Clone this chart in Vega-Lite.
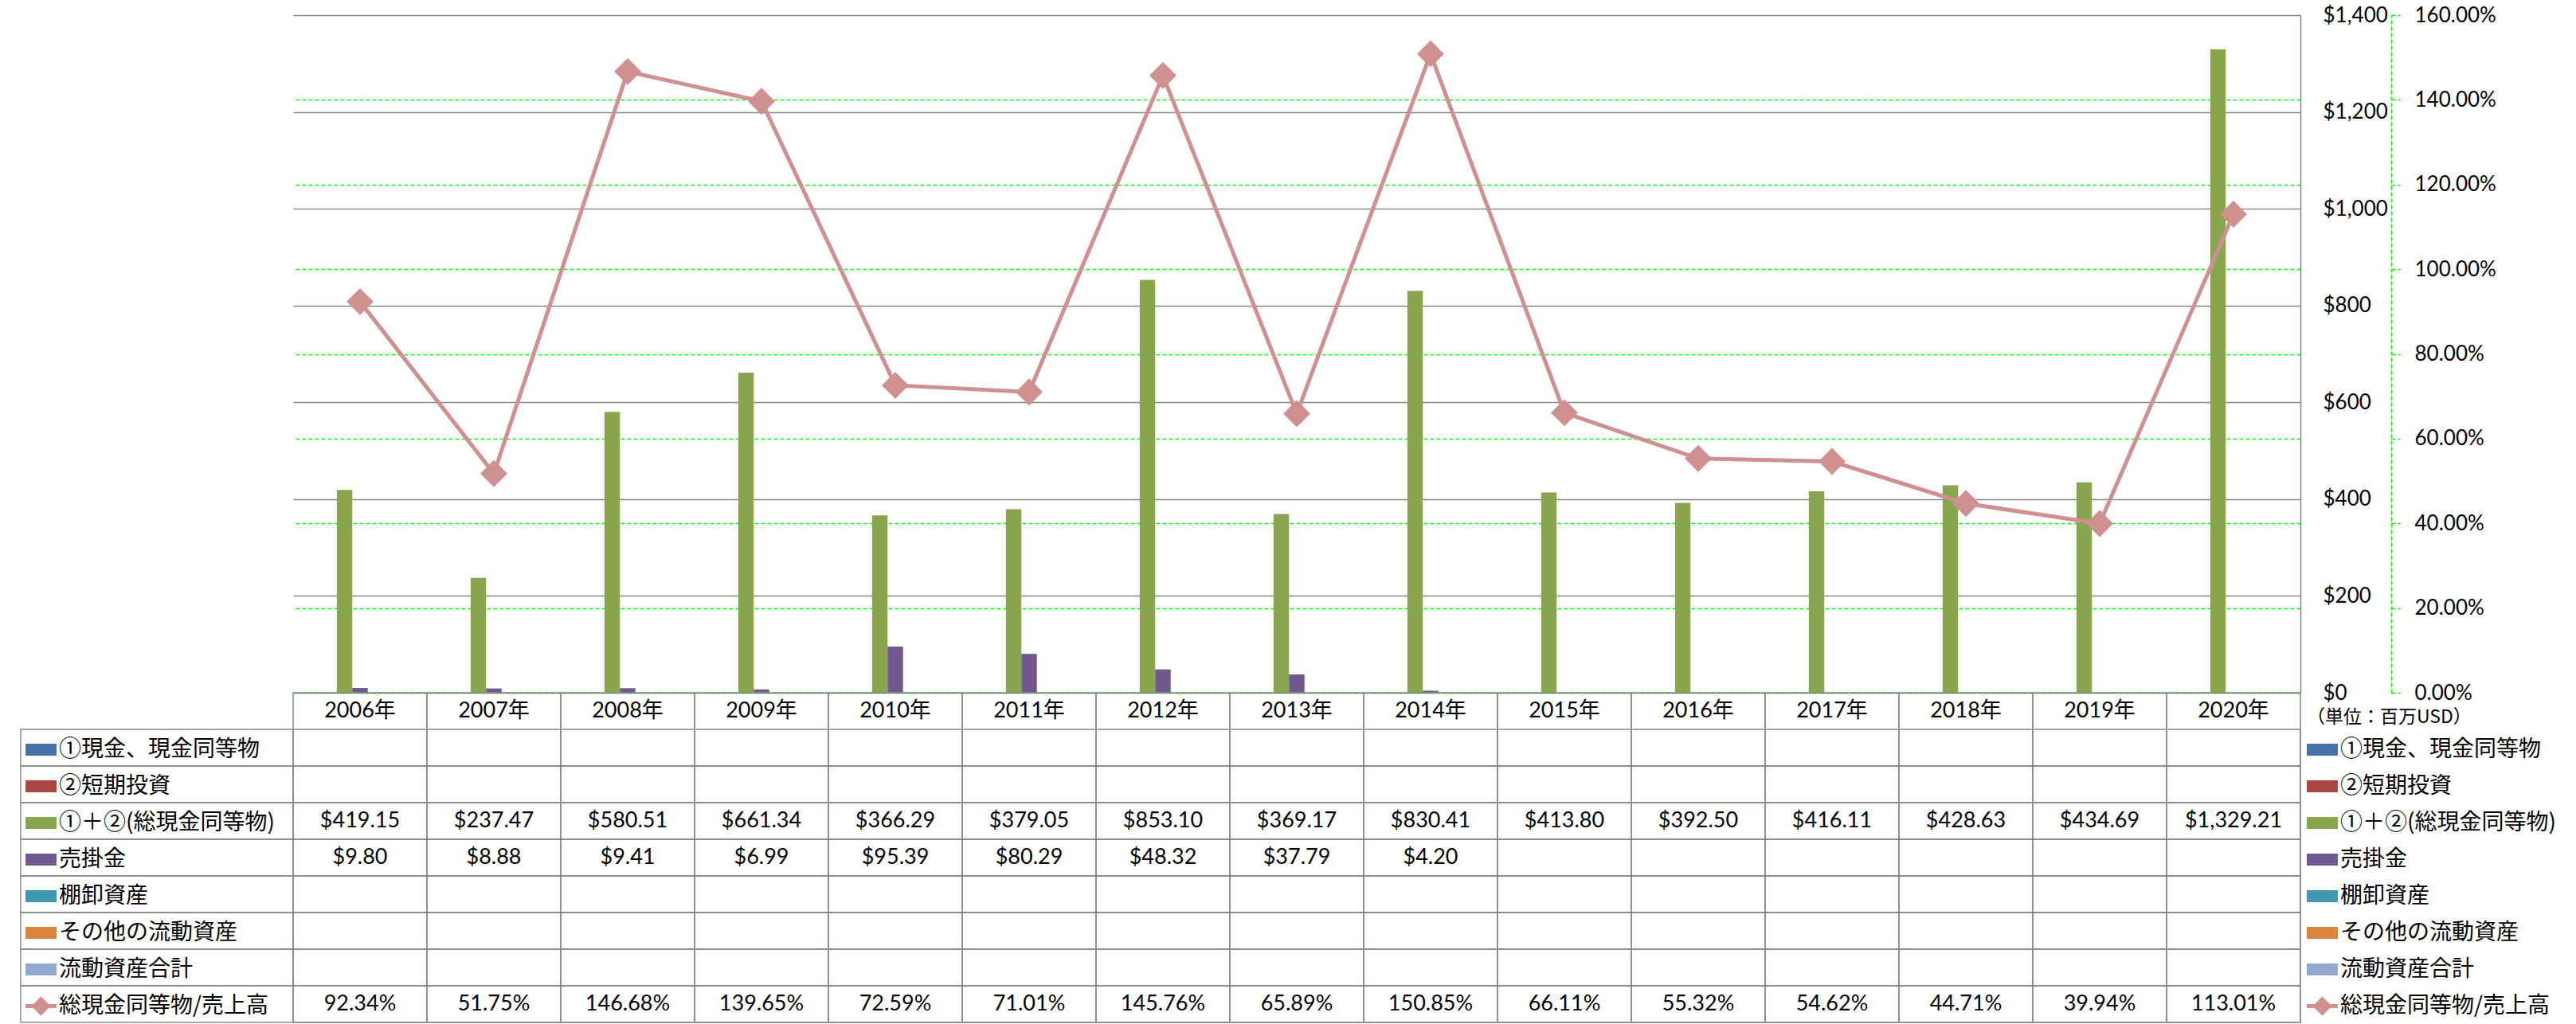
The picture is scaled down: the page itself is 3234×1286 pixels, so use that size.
{
  "$schema": "https://vega.github.io/schema/vega-lite/v6.json",
  "background": "white",
  "padding": {"left": 25, "top": 6, "right": 0, "bottom": 0},
  "config": {
    "view": {"stroke": null},
    "font": "Lato, 'Noto Sans CJK JP', sans-serif",
    "text": {"font": "Lato, 'Noto Sans CJK JP', sans-serif", "fontSize": 27, "color": "black"},
    "axis": {"labelFont": "Lato, 'Noto Sans CJK JP', sans-serif", "labelFontSize": 26, "labelColor": "black"}
  },
  "datasets": {
    "years": [
      {"year": "2006年"}, {"year": "2007年"}, {"year": "2008年"}, {"year": "2009年"}, {"year": "2010年"},
      {"year": "2011年"}, {"year": "2012年"}, {"year": "2013年"}, {"year": "2014年"}, {"year": "2015年"},
      {"year": "2016年"}, {"year": "2017年"}, {"year": "2018年"}, {"year": "2019年"}, {"year": "2020年"}
    ],
    "series": [
      {"series": "①現金、現金同等物"}, {"series": "②短期投資"}, {"series": "①＋②(総現金同等物)"}, {"series": "売掛金"},
      {"series": "棚卸資産"}, {"series": "その他の流動資産"}, {"series": "流動資産合計"}, {"series": "総現金同等物/売上高"}
    ],
    "cells": [
      {"year": "2006年", "series": "①＋②(総現金同等物)", "value": 419.15},
      {"year": "2007年", "series": "①＋②(総現金同等物)", "value": 237.47},
      {"year": "2008年", "series": "①＋②(総現金同等物)", "value": 580.51},
      {"year": "2009年", "series": "①＋②(総現金同等物)", "value": 661.34},
      {"year": "2010年", "series": "①＋②(総現金同等物)", "value": 366.29},
      {"year": "2011年", "series": "①＋②(総現金同等物)", "value": 379.05},
      {"year": "2012年", "series": "①＋②(総現金同等物)", "value": 853.10},
      {"year": "2013年", "series": "①＋②(総現金同等物)", "value": 369.17},
      {"year": "2014年", "series": "①＋②(総現金同等物)", "value": 830.41},
      {"year": "2015年", "series": "①＋②(総現金同等物)", "value": 413.80},
      {"year": "2016年", "series": "①＋②(総現金同等物)", "value": 392.50},
      {"year": "2017年", "series": "①＋②(総現金同等物)", "value": 416.11},
      {"year": "2018年", "series": "①＋②(総現金同等物)", "value": 428.63},
      {"year": "2019年", "series": "①＋②(総現金同等物)", "value": 434.69},
      {"year": "2020年", "series": "①＋②(総現金同等物)", "value": 1329.21},
      {"year": "2006年", "series": "売掛金", "value": 9.80},
      {"year": "2007年", "series": "売掛金", "value": 8.88},
      {"year": "2008年", "series": "売掛金", "value": 9.41},
      {"year": "2009年", "series": "売掛金", "value": 6.99},
      {"year": "2010年", "series": "売掛金", "value": 95.39},
      {"year": "2011年", "series": "売掛金", "value": 80.29},
      {"year": "2012年", "series": "売掛金", "value": 48.32},
      {"year": "2013年", "series": "売掛金", "value": 37.79},
      {"year": "2014年", "series": "売掛金", "value": 4.20},
      {"year": "2006年", "series": "総現金同等物/売上高", "value": 0.9234},
      {"year": "2007年", "series": "総現金同等物/売上高", "value": 0.5175},
      {"year": "2008年", "series": "総現金同等物/売上高", "value": 1.4668},
      {"year": "2009年", "series": "総現金同等物/売上高", "value": 1.3965},
      {"year": "2010年", "series": "総現金同等物/売上高", "value": 0.7259},
      {"year": "2011年", "series": "総現金同等物/売上高", "value": 0.7101},
      {"year": "2012年", "series": "総現金同等物/売上高", "value": 1.4576},
      {"year": "2013年", "series": "総現金同等物/売上高", "value": 0.6589},
      {"year": "2014年", "series": "総現金同等物/売上高", "value": 1.5085},
      {"year": "2015年", "series": "総現金同等物/売上高", "value": 0.6611},
      {"year": "2016年", "series": "総現金同等物/売上高", "value": 0.5532},
      {"year": "2017年", "series": "総現金同等物/売上高", "value": 0.5462},
      {"year": "2018年", "series": "総現金同等物/売上高", "value": 0.4471},
      {"year": "2019年", "series": "総現金同等物/売上高", "value": 0.3994},
      {"year": "2020年", "series": "総現金同等物/売上高", "value": 1.1301}
    ]
  },
  "columns": 2,
  "spacing": 0,
  "align": "each",
  "bounds": "flush",
  "resolve": {
    "scale": {"x": "independent", "y": "independent", "color": "independent", "shape": "independent", "xOffset": "independent"},
    "legend": {"color": "independent", "shape": "independent"}
  },
  "concat": [
    {
      "width": 342, "height": 851,
      "data": {"values": []},
      "mark": "point"
    },
    {
      "width": 2520, "height": 851,
      "data": {"name": "cells"},
      "layer": [
        {
          "transform": [{"filter": {"field": "series", "oneOf": ["①＋②(総現金同等物)", "売掛金"]}}],
          "mark": {"type": "bar"},
          "encoding": {
            "x": {"field": "year", "type": "nominal", "sort": null,
              "scale": {"domain": ["2006年","2007年","2008年","2009年","2010年","2011年","2012年","2013年","2014年","2015年","2016年","2017年","2018年","2019年","2020年"], "paddingInner": 0.19, "paddingOuter": 0.095},
              "axis": null},
            "xOffset": {"field": "series", "type": "nominal",
              "scale": {"domain": ["①現金、現金同等物","②短期投資","①＋②(総現金同等物)","売掛金","棚卸資産","その他の流動資産","流動資産合計"], "paddingInner": 0, "paddingOuter": 0}},
            "y": {"field": "value", "type": "quantitative",
              "scale": {"domain": [0, 1400], "nice": false},
              "axis": {"orient": "right", "values": [0,200,400,600,800,1000,1200,1400], "format": "$,.0f", "title": null,
                "labelPadding": 28, "ticks": false, "tickSize": 0, "domain": true, "domainColor": "#898989", "domainWidth": 1.5,
                "grid": true, "gridColor": "#898989", "gridWidth": 1.5}},
            "color": {"field": "series", "type": "nominal",
              "scale": {"domain": ["①現金、現金同等物","②短期投資","①＋②(総現金同等物)","売掛金","棚卸資産","その他の流動資産","流動資産合計","総現金同等物/売上高"],
                "range": ["#4572A7","#AA4643","#89A54E","#71588F","#4198AF","#DB843D","#93A9CF","#D09090"]},
              "legend": null}
          }
        },
        {
          "transform": [{"filter": {"field": "series", "equal": "総現金同等物/売上高"}}],
          "mark": {"type": "line", "color": "#D09090", "strokeWidth": 5,
            "point": {"shape": "diamond", "size": 1150, "filled": true, "color": "#D09090"}},
          "encoding": {
            "x": {"field": "year", "type": "nominal", "sort": null,
              "scale": {"domain": ["2006年","2007年","2008年","2009年","2010年","2011年","2012年","2013年","2014年","2015年","2016年","2017年","2018年","2019年","2020年"], "paddingInner": 0.19, "paddingOuter": 0.095},
              "axis": null},
            "y": {"field": "value", "type": "quantitative",
              "scale": {"domain": [0, 1.6], "nice": false},
              "axis": {"orient": "right", "offset": 114, "values": [0,0.2,0.4,0.6,0.8,1,1.2,1.4,1.6], "format": ".2%", "title": null,
                "labelPadding": 18, "ticks": true, "tickSize": 11, "tickColor": "#00FF00", "tickDash": [5,3], "tickWidth": 1.5,
                "domain": true, "domainColor": "#00FF00", "domainDash": [5,3], "domainWidth": 1.5,
                "grid": true, "gridColor": {"condition": {"test": "datum.value >= 1.59", "value": "transparent"}, "value": "#00FF00"},
                "gridDash": [5,3], "gridWidth": 1.5}}
          }
        }
      ],
      "resolve": {"scale": {"y": "independent"}}
    },
    {
      "width": 342, "height": 414,
      "layer": [
        {
          "data": {"name": "series"},
          "mark": {"type": "rect", "filled": false, "stroke": "#898989", "strokeWidth": 1.5},
          "encoding": {
            "y": {"field": "series", "type": "nominal",
              "scale": {"domain": ["hdr","①現金、現金同等物","②短期投資","①＋②(総現金同等物)","売掛金","棚卸資産","その他の流動資産","流動資産合計","総現金同等物/売上高"], "paddingInner": 0, "paddingOuter": 0},
              "axis": null}
          }
        },
        {
          "data": {"name": "series"},
          "transform": [{"filter": "false"}],
          "mark": {"type": "point", "filled": true, "size": 1521},
          "encoding": {
            "color": {"field": "series", "type": "nominal",
              "scale": {"domain": ["①現金、現金同等物","②短期投資","①＋②(総現金同等物)","売掛金","棚卸資産","その他の流動資産","流動資産合計","総現金同等物/売上高"],
                "range": ["#4572A7","#AA4643","#89A54E","#71588F","#4198AF","#DB843D","#93A9CF","#D09090"]},
              "legend": {"orient": "none", "legendX": 6, "legendY": 52, "title": null, "padding": 0, "rowPadding": 12,
                "symbolSize": 1521, "symbolStrokeWidth": 0, "symbolOpacity": 1, "labelOffset": 3, "labelLimit": 600,
                "labelFont": "'Noto Sans CJK JP', sans-serif", "labelFontSize": 28, "labelColor": "black"}},
            "shape": {"field": "series", "type": "nominal",
              "scale": {"domain": ["①現金、現金同等物","②短期投資","①＋②(総現金同等物)","売掛金","棚卸資産","その他の流動資産","流動資産合計","総現金同等物/売上高"],
                "range": ["M-1,-0.38H1V0.38H-1Z","M-1,-0.38H1V0.38H-1Z","M-1,-0.38H1V0.38H-1Z","M-1,-0.38H1V0.38H-1Z","M-1,-0.38H1V0.38H-1Z","M-1,-0.38H1V0.38H-1Z","M-1,-0.38H1V0.38H-1Z",
                  "M-1,-0.13H-0.49L0,-0.62L0.49,-0.13H1V0.13H0.49L0,0.62L-0.49,0.13H-1Z"]},
              "legend": {"orient": "none", "legendX": 6, "legendY": 52, "title": null, "padding": 0, "rowPadding": 12,
                "symbolSize": 1521, "symbolStrokeWidth": 0, "symbolOpacity": 1, "labelOffset": 3, "labelLimit": 600,
                "labelFont": "'Noto Sans CJK JP', sans-serif", "labelFontSize": 28, "labelColor": "black"}}
          }
        }
      ]
    },
    {
      "width": 2520, "height": 414,
      "layer": [
        {
          "data": {"name": "years"},
          "mark": {"type": "rect", "filled": false, "stroke": "#898989", "strokeWidth": 1.5},
          "encoding": {
            "x": {"field": "year", "type": "nominal", "sort": null,
              "scale": {"domain": ["2006年","2007年","2008年","2009年","2010年","2011年","2012年","2013年","2014年","2015年","2016年","2017年","2018年","2019年","2020年"], "paddingInner": 0, "paddingOuter": 0},
              "axis": null}
          }
        },
        {
          "data": {"name": "series"},
          "mark": {"type": "rect", "filled": false, "stroke": "#898989", "strokeWidth": 1.5},
          "encoding": {
            "y": {"field": "series", "type": "nominal",
              "scale": {"domain": ["hdr","①現金、現金同等物","②短期投資","①＋②(総現金同等物)","売掛金","棚卸資産","その他の流動資産","流動資産合計","総現金同等物/売上高"], "paddingInner": 0, "paddingOuter": 0},
              "axis": null}
          }
        },
        {
          "data": {"name": "years"},
          "mark": {"type": "text"},
          "encoding": {
            "x": {"field": "year", "type": "nominal", "sort": null,
              "scale": {"domain": ["2006年","2007年","2008年","2009年","2010年","2011年","2012年","2013年","2014年","2015年","2016年","2017年","2018年","2019年","2020年"], "paddingInner": 0, "paddingOuter": 0},
              "axis": null},
            "y": {"datum": "hdr", "type": "nominal",
              "scale": {"domain": ["hdr","①現金、現金同等物","②短期投資","①＋②(総現金同等物)","売掛金","棚卸資産","その他の流動資産","流動資産合計","総現金同等物/売上高"], "paddingInner": 0, "paddingOuter": 0},
              "axis": null},
            "text": {"field": "year", "type": "nominal"}
          }
        },
        {
          "data": {"name": "cells"},
          "transform": [{"filter": {"not": {"field": "series", "equal": "総現金同等物/売上高"}}}],
          "mark": {"type": "text"},
          "encoding": {
            "x": {"field": "year", "type": "nominal", "sort": null,
              "scale": {"domain": ["2006年","2007年","2008年","2009年","2010年","2011年","2012年","2013年","2014年","2015年","2016年","2017年","2018年","2019年","2020年"], "paddingInner": 0, "paddingOuter": 0},
              "axis": null},
            "y": {"field": "series", "type": "nominal",
              "scale": {"domain": ["hdr","①現金、現金同等物","②短期投資","①＋②(総現金同等物)","売掛金","棚卸資産","その他の流動資産","流動資産合計","総現金同等物/売上高"], "paddingInner": 0, "paddingOuter": 0},
              "axis": null},
            "text": {"field": "value", "type": "quantitative", "format": "$,.2f"}
          }
        },
        {
          "data": {"name": "cells"},
          "transform": [{"filter": {"field": "series", "equal": "総現金同等物/売上高"}}],
          "mark": {"type": "text"},
          "encoding": {
            "x": {"field": "year", "type": "nominal", "sort": null,
              "scale": {"domain": ["2006年","2007年","2008年","2009年","2010年","2011年","2012年","2013年","2014年","2015年","2016年","2017年","2018年","2019年","2020年"], "paddingInner": 0, "paddingOuter": 0},
              "axis": null},
            "y": {"field": "series", "type": "nominal",
              "scale": {"domain": ["hdr","①現金、現金同等物","②短期投資","①＋②(総現金同等物)","売掛金","棚卸資産","その他の流動資産","流動資産合計","総現金同等物/売上高"], "paddingInner": 0, "paddingOuter": 0},
              "axis": null},
            "text": {"field": "value", "type": "quantitative", "format": ".2%"}
          }
        },
        {
          "data": {"name": "series"},
          "transform": [{"filter": "false"}],
          "mark": {"type": "point", "filled": true, "size": 1521},
          "encoding": {
            "color": {"field": "series", "type": "nominal",
              "scale": {"domain": ["①現金、現金同等物","②短期投資","①＋②(総現金同等物)","売掛金","棚卸資産","その他の流動資産","流動資産合計","総現金同等物/売上高"],
                "range": ["#4572A7","#AA4643","#89A54E","#71588F","#4198AF","#DB843D","#93A9CF","#D09090"]},
              "legend": {"orient": "none", "legendX": 2528, "legendY": 20, "title": "（単位：百万USD）", "titleFont": "'Noto Sans CJK JP', sans-serif", "titleFontSize": 23, "titleFontWeight": "normal", "titleColor": "black", "titlePadding": 9, "titleLimit": 600,
                "padding": 0, "rowPadding": 12,
                "symbolSize": 1521, "symbolStrokeWidth": 0, "symbolOpacity": 1, "labelOffset": 3, "labelLimit": 600,
                "labelFont": "'Noto Sans CJK JP', sans-serif", "labelFontSize": 28, "labelColor": "black"}},
            "shape": {"field": "series", "type": "nominal",
              "scale": {"domain": ["①現金、現金同等物","②短期投資","①＋②(総現金同等物)","売掛金","棚卸資産","その他の流動資産","流動資産合計","総現金同等物/売上高"],
                "range": ["M-1,-0.38H1V0.38H-1Z","M-1,-0.38H1V0.38H-1Z","M-1,-0.38H1V0.38H-1Z","M-1,-0.38H1V0.38H-1Z","M-1,-0.38H1V0.38H-1Z","M-1,-0.38H1V0.38H-1Z","M-1,-0.38H1V0.38H-1Z",
                  "M-1,-0.13H-0.49L0,-0.62L0.49,-0.13H1V0.13H0.49L0,0.62L-0.49,0.13H-1Z"]},
              "legend": {"orient": "none", "legendX": 2528, "legendY": 20, "title": "（単位：百万USD）", "titleFont": "'Noto Sans CJK JP', sans-serif", "titleFontSize": 23, "titleFontWeight": "normal", "titleColor": "black", "titlePadding": 9, "titleLimit": 600,
                "padding": 0, "rowPadding": 12,
                "symbolSize": 1521, "symbolStrokeWidth": 0, "symbolOpacity": 1, "labelOffset": 3, "labelLimit": 600,
                "labelFont": "'Noto Sans CJK JP', sans-serif", "labelFontSize": 28, "labelColor": "black"}}
          }
        }
      ]
    }
  ]
}
